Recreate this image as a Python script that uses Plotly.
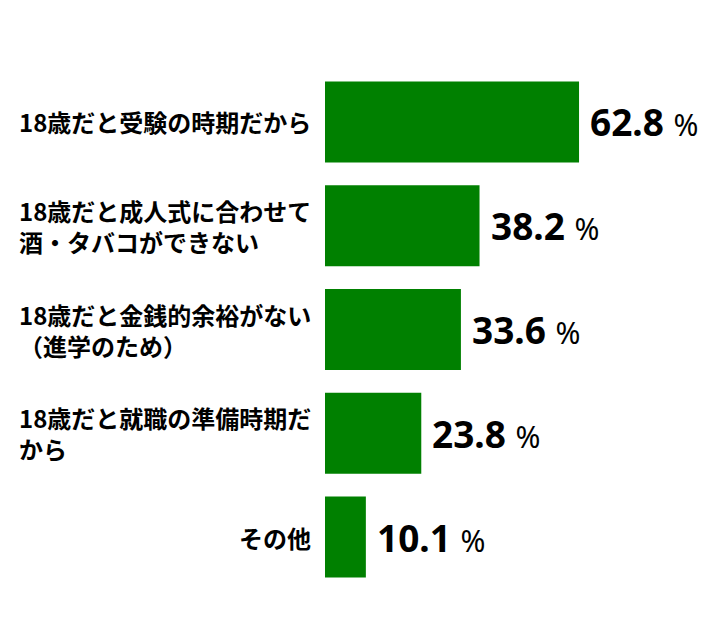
import plotly.graph_objects as go

# 回答項目（上から順）
categories = [
    '18歳だと受験の時期だから',
    '18歳だと成人式に合わせて<br>酒・タバコができない',
    '18歳だと金銭的余裕がない<br>（進学のため）',
    '18歳だと就職の準備時期だ<br>から',
    'その他',
]
values = [62.8, 38.2, 33.6, 23.8, 10.1]

bar_color = '#008000'
font_jp = 'Noto Sans CJK JP'

fig = go.Figure()

fig.add_trace(go.Bar(
    x=values,
    y=categories,
    orientation='h',
    marker=dict(color=bar_color, line=dict(width=0)),
    hoverinfo='x+y',
))

# 項目名（左揃えのブロックを軸の左に置く）
for cat in categories:
    fig.add_annotation(
        x=0, y=cat,
        xref='x', yref='y',
        text=cat,
        showarrow=False,
        xanchor='right',
        yanchor='middle',
        align='left',
        xshift=-12,
        font=dict(family=font_jp, size=24, color='black', weight='bold'),
    )

# 数値ラベル
for cat, val in zip(categories, values):
    fig.add_annotation(
        x=val, y=cat,
        xref='x', yref='y',
        text=f'<b>{val:.1f}</b> <span style="font-size:30px">%</span>',
        showarrow=False,
        xanchor='left',
        yanchor='middle',
        xshift=9,
        font=dict(family='Noto Sans', size=37, color='black'),
    )

# ページ余白(8px)の分だけ左上にずらす
fig.update_layout(
    width=719,
    height=619,
    margin=dict(l=317, r=8, t=62, b=38),
    paper_bgcolor='white',
    plot_bgcolor='white',
    bargap=0.22,
    showlegend=False,
    xaxis=dict(range=[0, 97.4], visible=False, fixedrange=True),
    yaxis=dict(
        categoryorder='array',
        categoryarray=categories,
        autorange='reversed',
        showticklabels=False,
        showgrid=False,
        zeroline=False,
        showline=False,
        ticks='',
        fixedrange=True,
    ),
)

fig.write_html('out.html')
